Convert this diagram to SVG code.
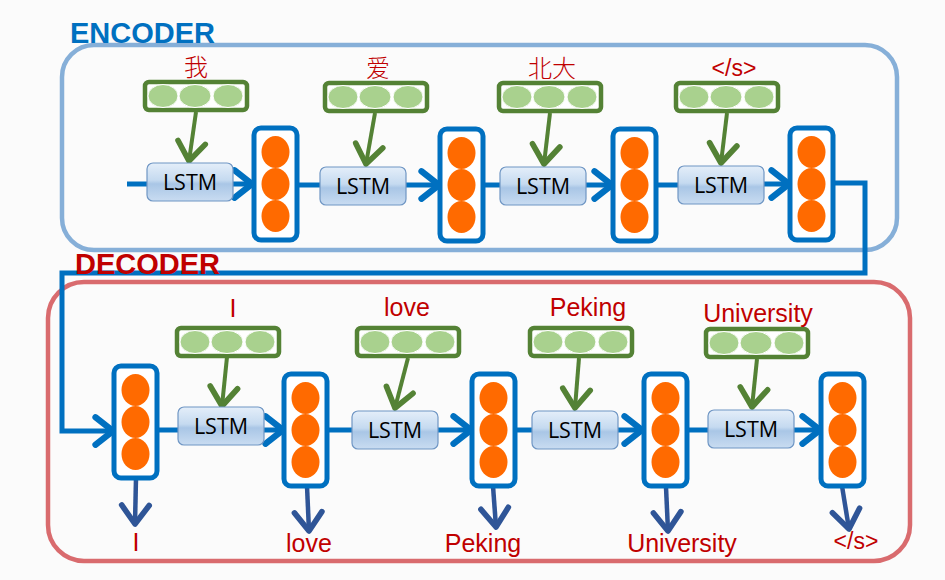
<svg xmlns="http://www.w3.org/2000/svg" xmlns:xlink="http://www.w3.org/1999/xlink" width="945" height="580" viewBox="0 0 945 580">
<style>
.title{font-family:"Liberation Sans",Arial,sans-serif;font-weight:bold;font-size:29px}
.lbl{font-family:"Liberation Sans",Arial,sans-serif;font-size:25px;fill:#c00000;text-anchor:middle}
.cjk{font-family:"Noto Sans CJK SC","Liberation Sans",sans-serif;font-size:24px;fill:#c00000;text-anchor:middle;font-weight:300}
.lstmt{font-family:"Open Sans","Liberation Sans",sans-serif;font-size:21.5px;fill:#000;text-anchor:middle}
.flow{fill:none;stroke:#0070c0;stroke-width:5}
.emb{fill:none;stroke:#548235;stroke-width:4}
.out{fill:none;stroke:#2f5597;stroke-width:4.5}
</style>
<defs>
<linearGradient id="lg" x1="0" y1="0" x2="0" y2="1">
<stop offset="0" stop-color="#e4eef9"/>
<stop offset="0.45" stop-color="#c5daf0"/>
<stop offset="0.55" stop-color="#a9c6e6"/>
<stop offset="1" stop-color="#c9dcf1"/>
</linearGradient>
<marker id="ab" markerUnits="userSpaceOnUse" markerWidth="30" markerHeight="30" viewBox="-16 -12 20 24" refX="0" refY="0" orient="auto" overflow="visible">
<path d="M-14,-11 L0,0 L-14,11" fill="none" stroke="#0070c0" stroke-width="5" stroke-linecap="round" stroke-linejoin="round"/>
</marker>
<marker id="ag" markerUnits="userSpaceOnUse" markerWidth="30" markerHeight="30" viewBox="-16 -12 20 24" refX="0" refY="0" orient="auto" overflow="visible">
<path d="M-15,-11 L0,0 L-15,11" fill="none" stroke="#548235" stroke-width="4.5" stroke-linecap="round" stroke-linejoin="round"/>
</marker>
<marker id="ad" markerUnits="userSpaceOnUse" markerWidth="30" markerHeight="30" viewBox="-16 -12 20 24" refX="0" refY="0" orient="auto" overflow="visible">
<path d="M-15,-11 L0,0 L-15,11" fill="none" stroke="#2f5597" stroke-width="4.5" stroke-linecap="round" stroke-linejoin="round"/>
</marker>
<g id="state">
<rect x="0" y="0" width="43" height="112" rx="7" fill="#ffffff" stroke="#0070c0" stroke-width="5"/>
<ellipse cx="21.5" cy="24" rx="14" ry="16" fill="#ff6a00"/>
<ellipse cx="21.5" cy="56" rx="14" ry="16" fill="#ff6a00"/>
<ellipse cx="21.5" cy="88" rx="14" ry="16" fill="#ff6a00"/>
</g>
<g id="embed">
<rect x="0" y="0" width="102" height="28" rx="4" fill="#ffffff" stroke="#548235" stroke-width="4.5"/>
<ellipse cx="18" cy="14" rx="15" ry="11.5" fill="#a9d18e" stroke="#ffffff" stroke-width="1"/>
<ellipse cx="50" cy="14" rx="16" ry="11.5" fill="#a9d18e" stroke="#ffffff" stroke-width="1"/>
<ellipse cx="83" cy="14" rx="15" ry="11.5" fill="#a9d18e" stroke="#ffffff" stroke-width="1"/>
</g>
<g id="lstm">
<rect x="0" y="0" width="86" height="38" rx="6" fill="url(#lg)" stroke="#6f96c4" stroke-width="1.2"/>
</g>
</defs>
<rect x="0" y="0" width="945" height="580" fill="#fbfbfb"/>

<g id="encoder-frame">
<rect x="62" y="45" width="835" height="205" rx="32" fill="#fbfbfb" stroke="#86afd8" stroke-width="4.5"/>
</g>
<g id="decoder-frame">
<rect x="48" y="282" width="862" height="279" rx="36" fill="#fbfbfb" stroke="#d96b6e" stroke-width="4.5"/>
</g>

<g id="connectors">
<!-- encoder flow -->
<line class="flow" x1="127" y1="184" x2="147" y2="184"/>
<line class="flow" x1="233" y1="184" x2="252" y2="184" marker-end="url(#ab)"/>
<line class="flow" x1="297" y1="185" x2="320" y2="185"/>
<line class="flow" x1="406" y1="185" x2="439" y2="185" marker-end="url(#ab)"/>
<line class="flow" x1="483" y1="185" x2="500" y2="185"/>
<line class="flow" x1="586" y1="185" x2="612" y2="185" marker-end="url(#ab)"/>
<line class="flow" x1="657" y1="185" x2="678" y2="185"/>
<line class="flow" x1="764" y1="184" x2="789" y2="184" marker-end="url(#ab)"/>
<!-- encoder to decoder -->
<polyline class="flow" points="833,183 865,183 865,273 62,273 62,431 113,431" marker-end="url(#ab)"/>
<!-- decoder flow -->
<line class="flow" x1="157" y1="430" x2="178" y2="430"/>
<line class="flow" x1="264" y1="430" x2="283" y2="430" marker-end="url(#ab)"/>
<line class="flow" x1="327" y1="430" x2="352" y2="430"/>
<line class="flow" x1="438" y1="430" x2="471" y2="430" marker-end="url(#ab)"/>
<line class="flow" x1="514" y1="430" x2="532" y2="430"/>
<line class="flow" x1="618" y1="430" x2="642" y2="430" marker-end="url(#ab)"/>
<line class="flow" x1="687" y1="430" x2="708" y2="430"/>
<line class="flow" x1="794" y1="430" x2="820" y2="430" marker-end="url(#ab)"/>
<!-- encoder embedding arrows -->
<line class="emb" x1="196" y1="112" x2="189" y2="161" marker-end="url(#ag)"/>
<line class="emb" x1="375" y1="113" x2="366" y2="164" marker-end="url(#ag)"/>
<line class="emb" x1="550" y1="113" x2="544" y2="164" marker-end="url(#ag)"/>
<line class="emb" x1="727" y1="113" x2="721" y2="163" marker-end="url(#ag)"/>
<!-- decoder embedding arrows -->
<line class="emb" x1="227" y1="357" x2="222" y2="406" marker-end="url(#ag)"/>
<line class="emb" x1="408" y1="358" x2="395" y2="408" marker-end="url(#ag)"/>
<line class="emb" x1="579" y1="358" x2="575" y2="408" marker-end="url(#ag)"/>
<line class="emb" x1="757" y1="359" x2="752" y2="407" marker-end="url(#ag)"/>
<!-- outputs -->
<line class="out" x1="136" y1="478" x2="135" y2="524" marker-end="url(#ad)"/>
<line class="out" x1="307" y1="486" x2="309" y2="531" marker-end="url(#ad)"/>
<line class="out" x1="493" y1="486" x2="496" y2="527" marker-end="url(#ad)"/>
<line class="out" x1="666" y1="487" x2="668" y2="531" marker-end="url(#ad)"/>
<line class="out" x1="842" y1="486" x2="849" y2="529" marker-end="url(#ad)"/>
</g>

<g id="titles">
<text class="title" x="70" y="43" fill="#0070c0">ENCODER</text>
<text class="title" x="75" y="274" fill="#c00000">DECODER</text>
</g>

<!-- Encoder nodes -->
<g id="enc-emb-1"><use xlink:href="#embed" x="145" y="82"/><text class="cjk" x="196" y="76">我</text></g>
<g id="enc-lstm-1"><use xlink:href="#lstm" x="147" y="163"/><text class="lstmt" x="190" y="190">LSTM</text></g>
<g id="enc-state-1"><use xlink:href="#state" x="254" y="128"/></g>

<g id="enc-emb-2"><use xlink:href="#embed" x="325" y="83"/><text class="cjk" x="378" y="77">爱</text></g>
<g id="enc-lstm-2"><use xlink:href="#lstm" x="320" y="167"/><text class="lstmt" x="363" y="194">LSTM</text></g>
<g id="enc-state-2"><use xlink:href="#state" x="440" y="129"/></g>

<g id="enc-emb-3"><use xlink:href="#embed" x="499" y="83"/><text class="cjk" x="552" y="77">北大</text></g>
<g id="enc-lstm-3"><use xlink:href="#lstm" x="500" y="167"/><text class="lstmt" x="543" y="194">LSTM</text></g>
<g id="enc-state-3"><use xlink:href="#state" x="613" y="129"/></g>

<g id="enc-emb-4"><use xlink:href="#embed" x="676" y="83"/><text class="lbl" x="734" y="76" style="font-size:23px">&lt;/s&gt;</text></g>
<g id="enc-lstm-4"><use xlink:href="#lstm" x="678" y="166"/><text class="lstmt" x="721" y="193">LSTM</text></g>
<g id="enc-state-4"><use xlink:href="#state" x="790" y="128"/></g>

<!-- Decoder nodes -->
<g id="dec-state-1"><use xlink:href="#state" x="114" y="366"/></g>
<g id="dec-out-1"><text class="lbl" x="136" y="551">I</text></g>

<g id="dec-emb-1"><use xlink:href="#embed" x="177" y="328"/><text class="lbl" x="233" y="317">I</text></g>
<g id="dec-lstm-1"><use xlink:href="#lstm" x="178" y="407"/><text class="lstmt" x="221" y="434">LSTM</text></g>
<g id="dec-state-2"><use xlink:href="#state" x="284" y="374"/></g>
<g id="dec-out-2"><text class="lbl" x="309" y="552">love</text></g>

<g id="dec-emb-2"><use xlink:href="#embed" x="357" y="328"/><text class="lbl" x="407" y="316">love</text></g>
<g id="dec-lstm-2"><use xlink:href="#lstm" x="352" y="411"/><text class="lstmt" x="395" y="438">LSTM</text></g>
<g id="dec-state-3"><use xlink:href="#state" x="472" y="374"/></g>
<g id="dec-out-3"><text class="lbl" x="483" y="552">Peking</text></g>

<g id="dec-emb-3"><use xlink:href="#embed" x="530" y="328"/><text class="lbl" x="588" y="316">Peking</text></g>
<g id="dec-lstm-3"><use xlink:href="#lstm" x="532" y="411"/><text class="lstmt" x="575" y="438">LSTM</text></g>
<g id="dec-state-4"><use xlink:href="#state" x="644" y="374"/></g>
<g id="dec-out-4"><text class="lbl" x="682" y="552">University</text></g>

<g id="dec-emb-4"><use xlink:href="#embed" x="706" y="329"/><text class="lbl" x="758" y="322">University</text></g>
<g id="dec-lstm-4"><use xlink:href="#lstm" x="708" y="410"/><text class="lstmt" x="751" y="437">LSTM</text></g>
<g id="dec-state-5"><use xlink:href="#state" x="821" y="374"/></g>
<g id="dec-out-5"><text class="lbl" x="856" y="549" style="font-size:23px">&lt;/s&gt;</text></g>
</svg>
